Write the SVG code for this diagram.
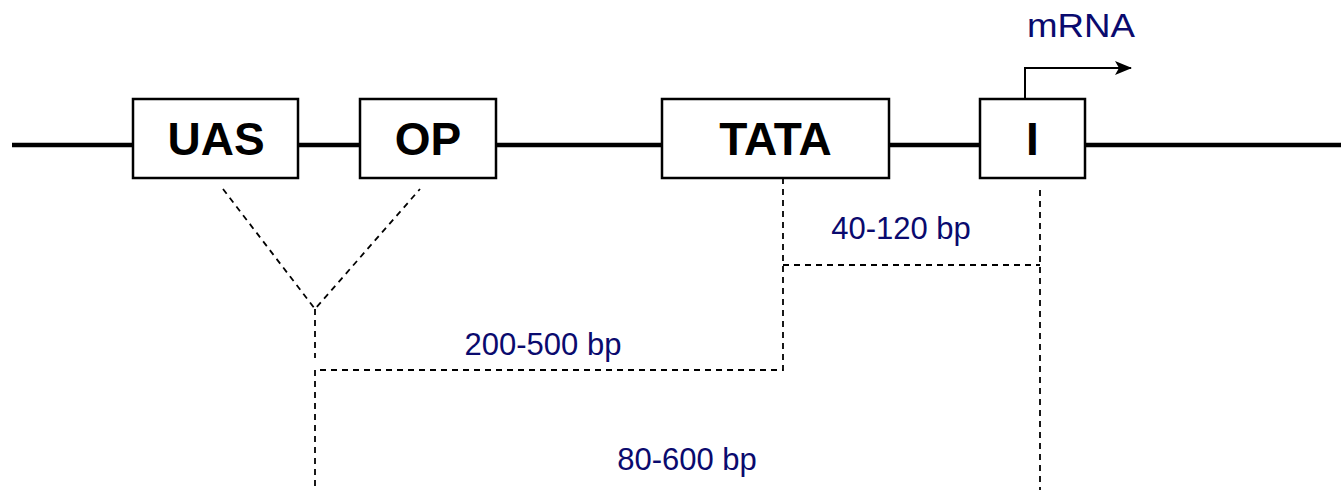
<svg xmlns="http://www.w3.org/2000/svg" width="1341" height="490" viewBox="0 0 1341 490">
  <style>
    .dna { stroke: #000; stroke-width: 4.5; fill: none; }
    .box { fill: #fff; stroke: #000; stroke-width: 2.5; }
    .name { font-family: "Liberation Sans", Arial, sans-serif; font-weight: bold; font-size: 46px; fill: #000; text-anchor: middle; }
    .dist { font-family: "Liberation Sans", Arial, sans-serif; font-size: 31px; fill: #0a0a6e; text-anchor: middle; }
    .title { font-size: 33px; }
    .dash { stroke: #000; stroke-width: 1.8; fill: none; stroke-dasharray: 6 5; }
  </style>
  <defs>
    <marker id="head" markerWidth="18" markerHeight="14" refX="16" refY="7" orient="auto" markerUnits="userSpaceOnUse" viewBox="0 0 18 14">
      <path d="M0,0 L17,7 L0,14 L4,7 Z" fill="#000"/>
    </marker>
  </defs>
  <rect width="1341" height="490" fill="#fff"/>

  <!-- DNA strand -->
  <line class="dna" x1="12" y1="145" x2="1341" y2="145"/>

  <!-- distance connectors -->
  <g id="connectors">
    <path class="dash" d="M223,189 L315,309 L420,189"/>
    <path class="dash" d="M315,309 L315,358"/>
    <path class="dash" d="M783,178 L783,370 L315,370 L315,490"/>
    <path class="dash" d="M783,265 L1040,265"/>
    <path class="dash" d="M1040,190 L1040,490"/>
    <path d="M1025,99 L1025,68 L1131,68" stroke="#000" stroke-width="2" fill="none" marker-end="url(#head)"/>
  </g>

  <g id="uas">
    <rect class="box" x="133" y="99" width="165" height="79"/>
    <text class="name" x="216" y="155">UAS</text>
  </g>
  <g id="op">
    <rect class="box" x="360" y="99" width="136" height="79"/>
    <text class="name" x="428" y="155">OP</text>
  </g>
  <g id="tata">
    <rect class="box" x="662" y="99" width="227" height="79"/>
    <text class="name" x="775.5" y="155">TATA</text>
  </g>
  <g id="initiator">
    <rect class="box" x="980" y="99" width="105" height="79"/>
    <text class="name" x="1032.5" y="155">I</text>
  </g>

  <g id="labels">
    <text class="dist title" x="1081" y="37" textLength="108" lengthAdjust="spacingAndGlyphs">mRNA</text>
    <text class="dist" x="901" y="239">40-120 bp</text>
    <text class="dist" x="543" y="355">200-500 bp</text>
    <text class="dist" x="687" y="470">80-600 bp</text>
  </g>
</svg>
